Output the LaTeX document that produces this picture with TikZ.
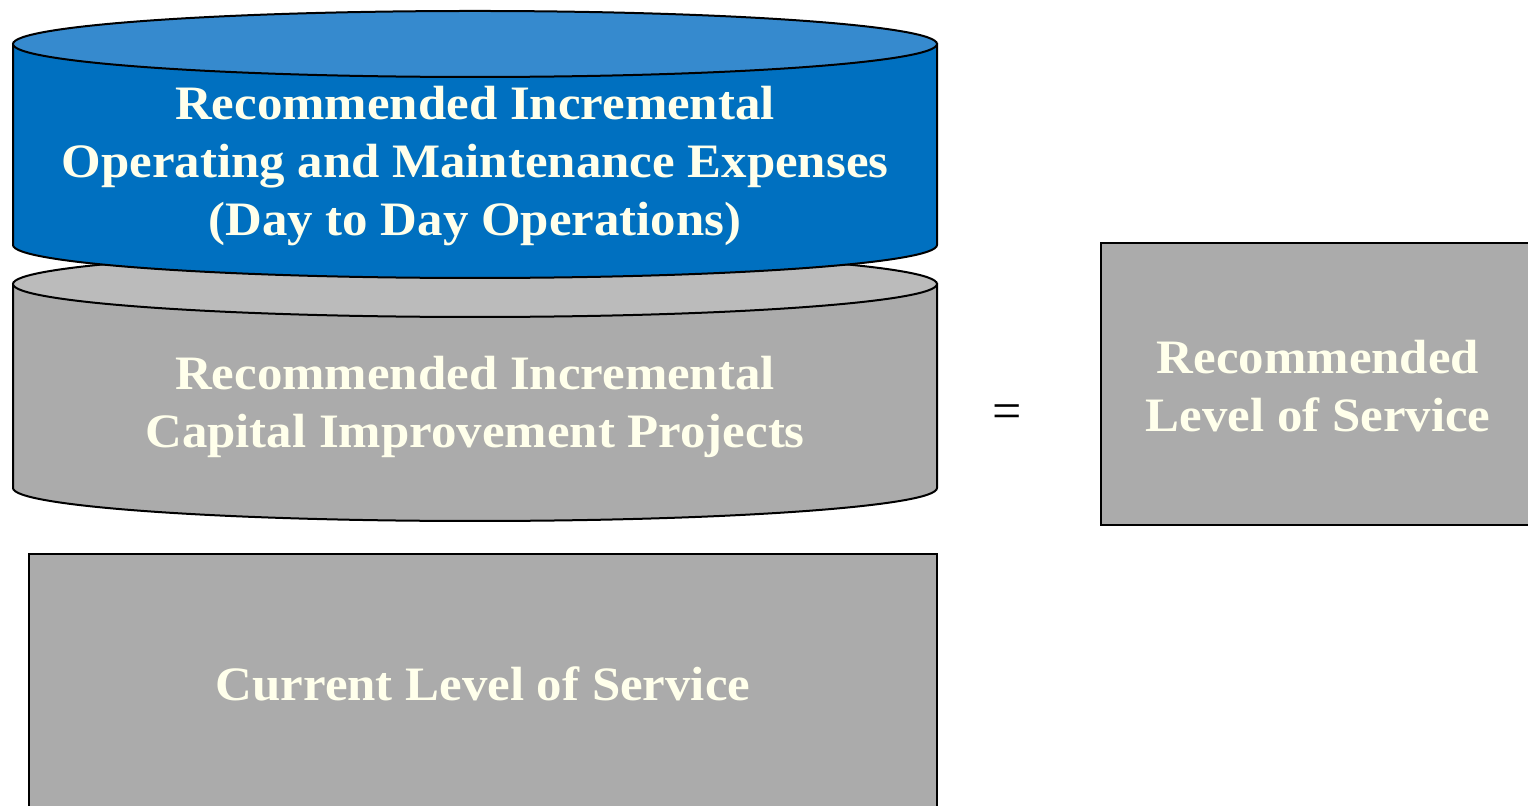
\documentclass[tikz,border=0pt]{standalone}
\usepackage{fontspec}
\setmainfont{Liberation Serif}[BoldFeatures={FakeStretch=1.06}]

\definecolor{drumblue}{HTML}{0070C0}
\definecolor{drumbluetop}{HTML}{368ACE}
\definecolor{drumgray}{HTML}{ABABAB}
\definecolor{drumgraytop}{HTML}{BBBBBB}
\definecolor{cream}{HTML}{FFFFEB}

% drum: centre x, top y, bottom y, body colour, top colour
\newcommand{\drum}[5]{%
  \draw[line width=1pt, fill=#4] (#1-462,#2) -- (#1-462,#3)
    arc[start angle=180, end angle=360, x radius=462, y radius=33]
    -- (#1+462,#2) -- cycle;
  \draw[line width=1pt, fill=#5] (#1,#2) ellipse[x radius=462, y radius=33];
}

\begin{document}
\begin{tikzpicture}[x=0.5pt, y=0.5pt,
    lbl/.style={text=cream, align=center, font=\fontsize{24}{29}\selectfont\bfseries},
    box/.style={draw, line width=1pt, fill=drumgray}]
    \clip (0,0) rectangle (1528,806);
    \useasboundingbox (0,0) rectangle (1528,806);

    \drum{475}{522}{318}{drumgray}{drumgraytop}
    \drum{475}{762}{561}{drumblue}{drumbluetop}

    \draw[box] (29,-10) rectangle (937,252);
    \draw[box] (1101,281) rectangle (1540,563);

    \node[lbl] (om) at (475,640) {Recommended Incremental\\Operating and Maintenance Expenses\\(Day to Day Operations)};
    \node[lbl] (cip) at (475,399) {Recommended Incremental\\Capital Improvement Projects};
    \node[lbl] (cur) at (483,122) {Current Level of Service};
    \node[font=\fontsize{26}{30}\selectfont] (eq) at (1007,389) {=};
    \node[lbl] (rec) at (1318,420) {Recommended\\Level of Service};
\end{tikzpicture}
\end{document}
